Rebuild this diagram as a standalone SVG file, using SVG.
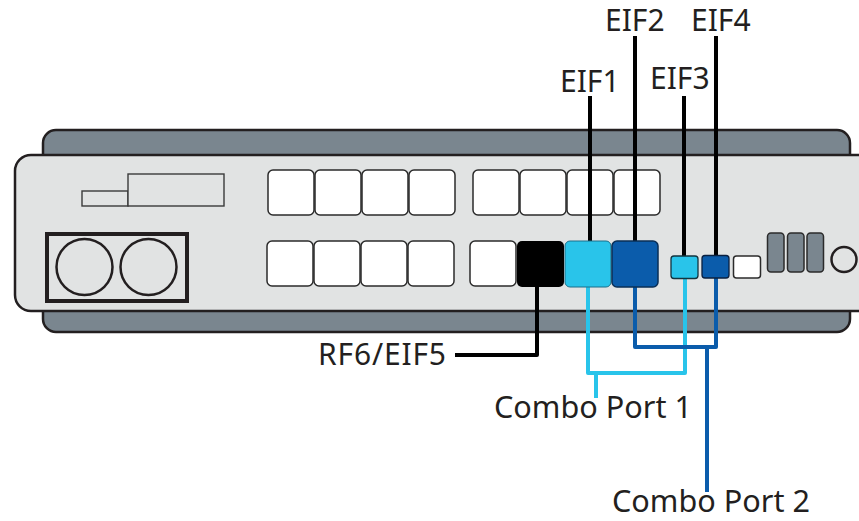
<svg xmlns="http://www.w3.org/2000/svg" width="859" height="521" viewBox="0 0 859 521">
<style>
.port{fill:#fff;stroke:#2b2b2b;stroke-width:1.5}
.cyan{fill:#29c4ea}
.blue{fill:#0b5cab}
.blk{fill:#000}
.grey{fill:#7a868f;stroke:#2b2b2b;stroke-width:1.5}
.thin{fill:#e1e3e3;stroke:#3a3a3a;stroke-width:1.4}
.l{fill:none;stroke-width:4;stroke-linejoin:round}
.k{stroke:#000}
.c{stroke:#29c4ea}
.b{stroke:#0b5cab}
text{font-family:"Noto Sans","Open Sans",sans-serif;font-size:30px;fill:#231f20}
.w{font-size:30.6px}
</style>
<g id="chassis">
<rect x="43" y="130" width="807" height="202" rx="13" fill="#7a868f" stroke="#231f20" stroke-width="2.5"/>
<rect x="15" y="155" width="860" height="156" rx="16" fill="#e1e3e3" stroke="#231f20" stroke-width="2.5"/>
</g>
<g id="display">
<rect class="thin" x="82" y="191" width="46" height="15"/>
<rect class="thin" x="128" y="174" width="96" height="32"/>
</g>
<g id="power">
<rect x="47" y="234" width="140" height="67" fill="none" stroke="#231f20" stroke-width="4"/>
<circle cx="84.500" cy="267" r="28" fill="none" stroke="#231f20" stroke-width="2.500"/>
<circle cx="148.500" cy="267" r="28" fill="none" stroke="#231f20" stroke-width="2.500"/>
</g>
<g id="ports-top">
<rect class="port" x="268" y="170" width="46" height="45" rx="5"/>
<rect class="port" x="315" y="170" width="46" height="45" rx="5"/>
<rect class="port" x="362" y="170" width="46" height="45" rx="5"/>
<rect class="port" x="409" y="170" width="46" height="45" rx="5"/>
<rect class="port" x="473" y="170" width="46" height="45" rx="5"/>
<rect class="port" x="520" y="170" width="46" height="45" rx="5"/>
<rect class="port" x="567" y="170" width="46" height="45" rx="5"/>
<rect class="port" x="614" y="170" width="46" height="45" rx="5"/>
</g>
<g id="ports-bottom">
<rect class="port" x="267" y="241" width="46" height="45" rx="5"/>
<rect class="port" x="314" y="241" width="46" height="45" rx="5"/>
<rect class="port" x="361" y="241" width="46" height="45" rx="5"/>
<rect class="port" x="408" y="241" width="46" height="45" rx="5"/>
<rect class="port" x="470" y="241" width="46" height="45" rx="5"/>
</g>
<g id="connectors">
<path class="l k" d="M590 96V241"/>
<path class="l k" d="M635 36V241"/>
<path class="l k" d="M684 96V256"/>
<path class="l k" d="M716 36V256"/>
<path class="l k" d="M537 286V355H455"/>
<path class="l c" d="M588 286V373H685V278"/>
<path class="l c" d="M596 373V398"/>
<path class="l b" d="M635 286V347H716V278"/>
<path class="l b" d="M707 347V492"/>
</g>
<g id="rf6-eif5"><rect class="blk" x="517" y="241" width="47" height="46" rx="5"/></g>
<g id="eif1"><rect class="cyan" x="565" y="241" width="46" height="46" rx="5" stroke="#1a6f8a" stroke-width="1"/></g>
<g id="eif2"><rect class="blue" x="612" y="241" width="46" height="46" rx="5" stroke="#0a2f57" stroke-width="1.500"/></g>
<g id="eif3"><rect class="cyan" x="671" y="256" width="27" height="22.500" rx="3" stroke="#12343f" stroke-width="1.300"/></g>
<g id="eif4"><rect class="blue" x="702" y="255.500" width="27" height="22.500" rx="3" stroke="#0a2040" stroke-width="1.300"/></g>
<g id="port-small"><rect class="port" x="733.500" y="256" width="27" height="22" rx="3"/></g>
<g id="status">
<rect class="grey" x="767.500" y="233" width="16.500" height="39" rx="3.500"/>
<rect class="grey" x="787.500" y="233" width="16.500" height="39" rx="3.500"/>
<rect class="grey" x="807" y="233" width="16.500" height="39" rx="3.500"/>
<circle cx="844" cy="259.500" r="12.500" fill="none" stroke="#231f20" stroke-width="2.500"/>
</g>
<g id="labels">
<text x="560" y="92">EIF1</text>
<text x="605" y="31">EIF2</text>
<text x="650" y="89">EIF3</text>
<text x="691" y="31">EIF4</text>
<text x="318" y="365" textLength="128">RF6/EIF5</text>
<text class="w" x="494" y="418">Combo Port 1</text>
<text class="w" x="612" y="512">Combo Port 2</text>
</g>
</svg>
